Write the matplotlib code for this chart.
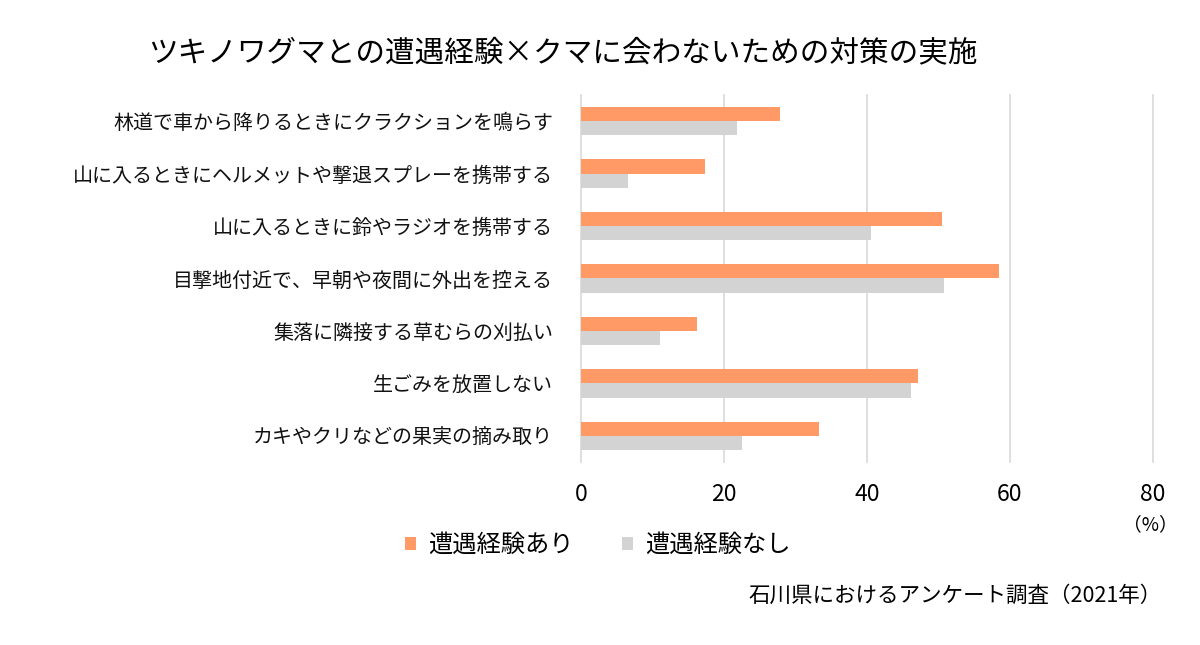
import matplotlib
matplotlib.use("Agg")
import matplotlib.pyplot as plt
import numpy as np

plt.rcParams['font.family'] = ['Noto Sans CJK JP', 'DejaVu Sans']

title = "ツキノワグマとの遭遇経験×クマに会わないための対策の実施"
categories = [
    "林道で車から降りるときにクラクションを鳴らす",
    "山に入るときにヘルメットや撃退スプレーを携帯する",
    "山に入るときに鈴やラジオを携帯する",
    "目撃地付近で、早朝や夜間に外出を控える",
    "集落に隣接する草むらの刈払い",
    "生ごみを放置しない",
    "カキやクリなどの果実の摘み取り",
]
series_names = ["遭遇経験あり", "遭遇経験なし"]
with_encounter = [27.8, 17.3, 50.5, 58.5, 16.2, 47.1, 33.3]
without_encounter = [21.8, 6.6, 40.6, 50.8, 11.0, 46.1, 22.5]
xticks = [0, 20, 40, 60, 80]
source = "石川県におけるアンケート調査（2021年）"

orange = "#FF9966"
gray = "#D3D3D3"

fig = plt.figure(figsize=(12, 6.45), dpi=100)
ax = fig.add_axes([581/1200, 1-462/645, (1153-581)/1200, (462-95)/645])

y = np.arange(len(categories))
h = 0.27
b1 = ax.barh(y - h/2, with_encounter, height=h, color=orange, label=series_names[0], zorder=3)
b2 = ax.barh(y + h/2, without_encounter, height=h, color=gray, label=series_names[1], zorder=3)

ax.set_ylim(len(categories) - 0.5, -0.5)
ax.set_xlim(0, 80)
ax.set_xticks(xticks)
ax.set_xticklabels([str(v) for v in xticks], fontsize=16.5)
ax.set_yticks(y)
ax.set_yticklabels(categories, fontsize=14.4, color='#111111')
ax.tick_params(axis='both', length=0)
ax.tick_params(axis='y', pad=20)
ax.tick_params(axis='x', pad=15)
for s in ax.spines.values():
    s.set_visible(False)
ax.grid(axis='x', color='#D9D9D9', linewidth=1.2, zorder=0)
for gl in ax.get_xgridlines():
    gl.set_clip_on(False)
ax.set_axisbelow(True)

fig.text(148/1200, 1-53/645, title, fontsize=21.3, ha='left', va='center')
fig.text(1150/1200, 1-525/645, "（%）", fontsize=13.5, ha='center', va='center')
fig.legend(handles=[b1, b2], loc='center', bbox_to_anchor=(598/1200, 1-545/645),
           ncol=2, frameon=False, fontsize=17.5, handlelength=0.45, handleheight=0.45,
           handletextpad=0.5, columnspacing=2.0)
fig.text(1162/1200, 1-596/645, source, fontsize=15.5, ha='right', va='center')

fig.savefig("out.png", dpi=100)
